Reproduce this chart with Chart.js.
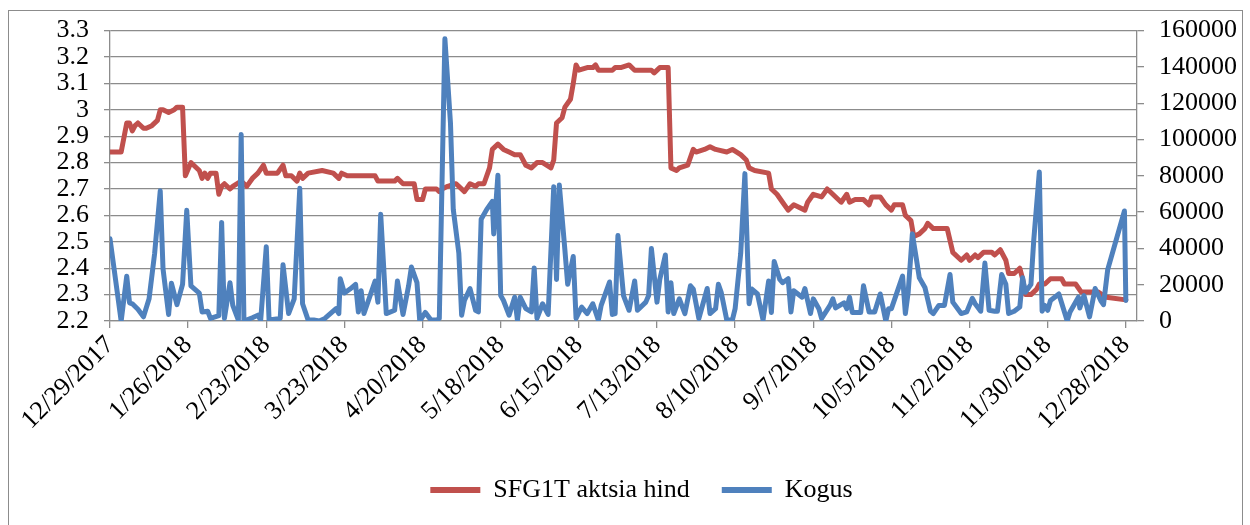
<!DOCTYPE html>
<html>
<head>
<meta charset="utf-8">
<script src="https://cdn.jsdelivr.net/npm/chart.js@4/dist/chart.umd.min.js"></script>
<style>
  html, body { margin: 0; padding: 0; background: #fff; overflow: hidden; }
  #wrap { position: relative; width: 1250px; height: 525px; }
  #frame { position: absolute; left: 8px; top: 10px; width: 1233px; height: 600px; border: 1px solid #8c8c8c; pointer-events: none; }
</style>
</head>
<body>
<div id="wrap">
  <canvas id="myChart" width="1250" height="525"></canvas>
  <div id="frame"></div>
</div>
<script>
// x values are calendar days counted from 12/29/2017
var tickDays = [0, 28, 56, 84, 112, 140, 168, 196, 224, 252, 280, 308, 336, 364];
var tickLabels = ["12/29/2017", "1/26/2018", "2/23/2018", "3/23/2018", "4/20/2018", "5/18/2018",
  "6/15/2018", "7/13/2018", "8/10/2018", "9/7/2018", "10/5/2018", "11/2/2018", "11/30/2018", "12/28/2018"];

var priceDays = [0, 4, 6, 7, 8, 9, 10, 12, 13, 15, 17, 18, 19, 21, 23, 24, 26, 27, 29, 30,
  32, 33, 34, 35, 36, 38, 39, 40, 41, 43, 44, 47, 49, 51, 53, 55, 56, 60, 62, 63,
  65, 67, 68, 69, 71, 76, 80, 82, 83, 85, 95, 96, 102, 103, 105, 109, 110, 112, 113, 117,
  118, 119, 121, 124, 127, 129, 131, 132, 134, 136, 137, 139, 141, 143, 145, 147, 149, 151, 153, 155,
  158, 159, 160, 162, 163, 165, 166, 167, 168, 171, 173, 174, 175, 180, 181, 183, 186, 188, 194, 195,
  197, 200, 201, 203, 204, 207, 209, 210, 213, 215, 217, 221, 223, 226, 228, 229, 231, 236, 237, 239,
  241, 243, 245, 249, 250, 252, 255, 257, 259, 262, 264, 265, 267, 270, 272, 273, 276, 278, 280, 281,
  284, 285, 287, 288, 290, 292, 293, 295, 300, 302, 305, 307, 308, 310, 311, 313, 316, 317, 319, 321,
  322, 324, 326, 327, 328, 330, 332, 333, 335, 337, 341, 342, 346, 348, 354, 357, 364];
var price = [2.84, 2.84, 2.95, 2.95, 2.92, 2.94, 2.95, 2.93, 2.93, 2.94, 2.96, 3.00, 3.00, 2.99, 3.00, 3.01, 3.01, 2.75, 2.80, 2.79,
  2.77, 2.74, 2.76, 2.74, 2.76, 2.76, 2.68, 2.71, 2.72, 2.70, 2.71, 2.73, 2.71, 2.74, 2.76, 2.79, 2.76, 2.76, 2.79, 2.75,
  2.75, 2.73, 2.76, 2.74, 2.76, 2.77, 2.76, 2.74, 2.76, 2.75, 2.75, 2.73, 2.73, 2.74, 2.72, 2.72, 2.66, 2.66, 2.70, 2.70,
  2.69, 2.70, 2.71, 2.72, 2.69, 2.72, 2.71, 2.72, 2.72, 2.78, 2.85, 2.87, 2.85, 2.84, 2.83, 2.83, 2.79, 2.78, 2.80, 2.80,
  2.78, 2.81, 2.95, 2.97, 3.01, 3.04, 3.10, 3.17, 3.15, 3.16, 3.16, 3.17, 3.15, 3.15, 3.16, 3.16, 3.17, 3.15, 3.15, 3.14,
  3.16, 3.16, 2.78, 2.77, 2.78, 2.79, 2.85, 2.84, 2.85, 2.86, 2.85, 2.84, 2.85, 2.83, 2.81, 2.78, 2.77, 2.76, 2.70, 2.68,
  2.65, 2.62, 2.64, 2.62, 2.65, 2.68, 2.67, 2.70, 2.68, 2.65, 2.68, 2.65, 2.66, 2.66, 2.64, 2.67, 2.67, 2.64, 2.62, 2.64,
  2.64, 2.60, 2.58, 2.52, 2.53, 2.55, 2.57, 2.55, 2.55, 2.46, 2.43, 2.45, 2.43, 2.45, 2.44, 2.46, 2.46, 2.45, 2.47, 2.43,
  2.38, 2.38, 2.40, 2.36, 2.30, 2.30, 2.32, 2.34, 2.34, 2.36, 2.36, 2.34, 2.34, 2.31, 2.31, 2.29, 2.28];

var volumeDays = [0, 4, 6, 7, 8, 10, 12, 14, 16, 18, 19, 21, 22, 24, 26, 27.5, 29, 32, 33, 35,
  36, 39, 40, 41, 43, 44, 46, 47, 48, 51, 53, 54, 56, 57, 61, 62, 64, 66, 68, 69,
  71, 73, 75, 77, 81, 82, 82.5, 84, 86, 88, 89, 90, 91, 95, 96, 97, 99, 102, 103, 105,
  107, 108, 110, 111, 113, 115, 117, 118, 120, 122, 123, 125, 126, 127, 129, 131, 132, 133, 135, 137,
  137.5, 139, 140, 141, 143, 145, 146, 147, 149, 151, 152, 153, 155, 157, 159, 160, 161, 163, 164, 166,
  167, 169, 171, 173, 175, 176, 179, 180, 181, 182, 184, 186, 188, 189, 192, 193, 194, 196, 197, 199,
  200, 201, 202, 204, 206, 208, 209, 211, 214, 215, 217, 218, 219, 221, 223, 224, 226, 227.5, 229, 230,
  232, 234, 236, 237, 238, 240, 241, 243, 244, 245, 248, 249, 251, 252, 254, 255, 258, 259, 260, 263,
  264, 265, 266, 269, 270, 272, 274, 276, 278, 279, 280, 282, 284, 285, 286, 287.5, 289, 290, 292, 294,
  295, 297, 299, 301, 302, 305, 307, 309, 310, 312, 313.5, 315, 317, 318, 319.5, 321, 322, 324, 326, 327,
  328, 330, 331, 333, 334, 335, 336, 337, 340, 343, 344, 347, 347.5, 349, 351, 353, 355, 356, 357.5, 363.5,
  364];
var volume = [45300, 0, 24700, 10000, 9500, 6500, 2300, 12200, 37300, 71700, 28700, 3600, 20800, 9000, 20200, 61000, 19400, 15400, 5000, 5400,
  1400, 2900, 54300, 1400, 21100, 8600, 500, 102700, 0, 1800, 3200, 500, 40900, 500, 1400, 31000, 4100, 12200, 73100, 9500,
  500, 500, 0, 1400, 6800, 4100, 23300, 15400, 17600, 20200, 5000, 16700, 4100, 22000, 10400, 58800, 4100, 5900, 22000, 3600,
  19400, 29700, 21100, 0, 4700, 500, 500, 1400, 155500, 109000, 61500, 37300, 3200, 11300, 17900, 5900, 5000, 56100, 61500, 65900,
  48000, 80300, 14000, 11300, 3200, 13100, 500, 13100, 6800, 5000, 29200, 1400, 9500, 3600, 74000, 22900, 74900, 39100, 20200, 35500,
  1400, 7700, 4100, 9500, 500, 8600, 21500, 3600, 4100, 47100, 14000, 5900, 22000, 5900, 10400, 14000, 40000, 10400, 22900, 36400,
  5000, 21100, 4100, 12200, 4100, 19400, 17600, 1400, 17900, 4100, 6800, 20200, 15800, 500, 500, 6800, 37300, 81200, 9500, 17600,
  14900, 500, 22000, 4700, 32800, 22900, 21100, 23300, 5000, 16700, 13100, 17900, 4100, 12200, 6800, 1400, 8600, 12200, 7200, 10000,
  6800, 13100, 4700, 4700, 19400, 5000, 5000, 14900, 0, 6800, 6800, 15800, 24700, 4100, 15800, 48000, 33700, 23800, 18500, 5400,
  4100, 8600, 8600, 25600, 10400, 4100, 5000, 12500, 9500, 5400, 31900, 5900, 5400, 5400, 25600, 20200, 4100, 5400, 7700, 23800,
  15800, 20200, 44400, 82100, 5400, 8600, 5900, 11300, 14900, 0, 5000, 13100, 7200, 14000, 2300, 17900, 11300, 9000, 28300, 60600,
  11300];

var font = "'Liberation Serif', 'Times New Roman', serif";
var gridColor = "#8c8c8c";

function points(xs, ys) {
  return xs.map(function(x, i) { return { x: x, y: ys[i] }; });
}

var chartOptions = {
  type: "line",
  data: {
    datasets: [{
      label: "SFG1T aktsia hind",
      data: points(priceDays, price),
      borderColor: "#c0504d",
      backgroundColor: "#c0504d",
      yAxisID: "y",
      order: 1
    }, {
      label: "Kogus",
      data: points(volumeDays, volume),
      borderColor: "#4f81bd",
      backgroundColor: "#4f81bd",
      yAxisID: "y1",
      order: 0
    }]
  },
  options: {
    responsive: false,
    animation: false,
    layout: { padding: { left: 33, right: 0, top: 25, bottom: 12 } },
    elements: {
      point: { radius: 0 },
      line: { borderWidth: 5, tension: 0, borderJoinStyle: "round", borderCapStyle: "round" }
    },
    scales: {
      x: {
        type: "linear",
        min: 0,
        max: 368,
        afterBuildTicks: function(scale) {
          scale.ticks = tickDays.map(function(d) { return { value: d }; });
        },
        afterFit: function(scale) { scale.height = 124; },
        grid: { drawOnChartArea: false, color: gridColor, lineWidth: 1.3, tickLength: 7 },
        border: { color: gridColor, width: 1.3 },
        ticks: {
          autoSkip: false,
          minRotation: 45,
          maxRotation: 45,
          padding: 2,
          color: "#000",
          font: { family: font, size: 26 },
          callback: function(v) { return tickLabels[tickDays.indexOf(v)]; }
        }
      },
      y: {
        position: "left",
        min: 2.2,
        max: 3.3,
        afterFit: function(scale) { scale.width = 77; },
        grid: { color: gridColor, lineWidth: 1.3, tickLength: 6 },
        border: { color: gridColor, width: 1.3 },
        ticks: {
          stepSize: 0.1,
          autoSkip: false,
          padding: 15,
          color: "#000",
          font: { family: font, size: 26, lineHeight: 1 },
          callback: function(v) { return String(+v.toFixed(1)); }
        }
      },
      y1: {
        position: "right",
        min: 0,
        max: 160000,
        afterFit: function(scale) { scale.width = 113; },
        grid: { drawOnChartArea: false, color: gridColor, lineWidth: 1.3, tickLength: 7 },
        border: { color: gridColor, width: 1.3 },
        ticks: {
          stepSize: 20000,
          autoSkip: false,
          padding: 15,
          color: "#000",
          font: { family: font, size: 26 },
          callback: function(v) { return String(v); }
        }
      }
    },
    plugins: {
      tooltip: { enabled: false },
      legend: {
        position: "bottom",
        labels: {
          boxWidth: 50,
          boxHeight: 6,
          padding: 32,
          color: "#000",
          font: { family: font, size: 26 },
          generateLabels: function(chart) {
            var items = Chart.defaults.plugins.legend.labels.generateLabels(chart);
            items.forEach(function(it) { it.lineWidth = 0; });
            return items.sort(function(a, b) { return a.datasetIndex - b.datasetIndex; });
          }
        }
      }
    }
  }
};

var ctx = document.getElementById("myChart").getContext("2d");
var myChart = new Chart(ctx, chartOptions);
</script>
</body>
</html>
